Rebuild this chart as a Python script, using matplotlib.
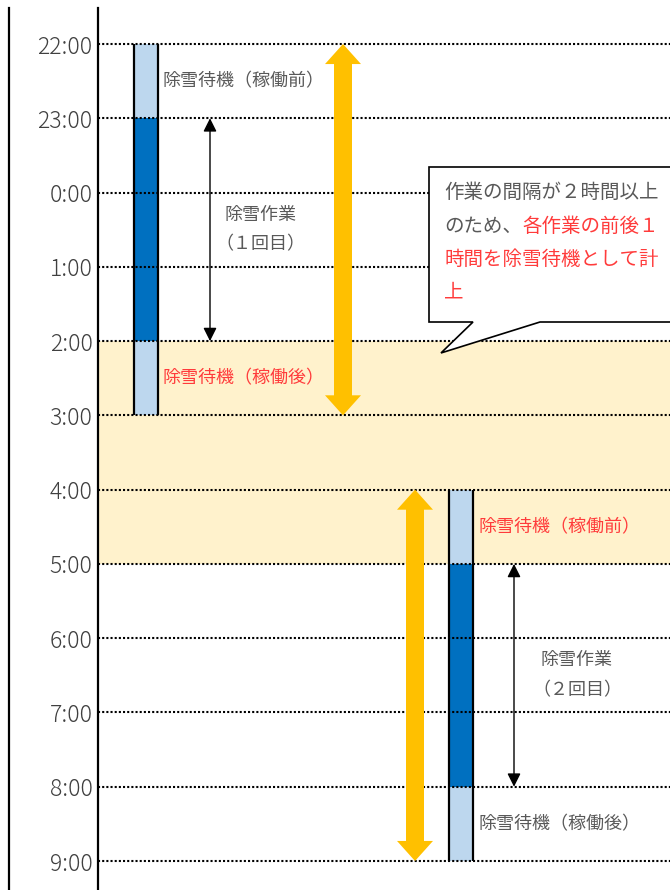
import matplotlib.pyplot as plt
from matplotlib.patches import Polygon

plt.rcParams['font.family'] = ['Noto Sans CJK JP', 'DejaVu Sans']

# 時刻ラベル (22:00 から 9:00 まで)
hours = ['22:00', '23:00', '0:00', '1:00', '2:00', '3:00',
         '4:00', '5:00', '6:00', '7:00', '8:00', '9:00']

# 各作業 (値は hours の位置)
sessions = ['１回目', '２回目']
standby_start = [0, 6]   # 除雪待機（稼働前）開始
work_start = [1, 7]      # 除雪作業 開始
work_end = [4, 10]       # 除雪作業 終了
standby_end = [5, 11]    # 除雪待機（稼働後）終了
before_red = [False, True]
after_red = [True, False]

# 待機が重なる時間帯 (2:00-5:00)
shade_start, shade_end = 4, 7

GRAY = '#595959'
RED = '#FF3B3B'
LIGHT = '#BDD7EE'
DARK = '#0070C0'
YELLOW = '#FFC000'

bar_x = [36, 351]
bar_w = 24
yarrow_x = [245, 317]
thin_x = [112, 416]
work_label_x = [162, 479]

fig = plt.figure(figsize=(6.7, 8.9), dpi=100)
ax = fig.add_axes([98 / 670, 0, 1 - 98 / 670, 1])
step = (861 - 44) / 11
ax.set_xlim(0, 572)
ax.set_ylim(11 + 29 / step, -44 / step)

# 背景の網掛け
ax.axhspan(shade_start, shade_end, color='#FFF2CC', zorder=0, lw=0)

for i in range(len(sessions)):
    x0 = bar_x[i]
    # 棒
    ax.bar(x0, work_start[i] - standby_start[i], bottom=standby_start[i], width=bar_w,
           align='edge', color=LIGHT, zorder=1)
    ax.bar(x0, work_end[i] - work_start[i], bottom=work_start[i], width=bar_w,
           align='edge', color=DARK, zorder=1)
    ax.bar(x0, standby_end[i] - work_end[i], bottom=work_end[i], width=bar_w,
           align='edge', color=LIGHT, zorder=1)
    ax.vlines([x0, x0 + bar_w], standby_start[i], standby_end[i], color='black', lw=1.6, zorder=2)

    # 黄色の両矢印 (中央で重なる2本の矢印)
    a, b = standby_start[i], standby_end[i]
    m1 = a + (b - a) * 0.6
    m2 = a + (b - a) * 0.4
    ax.arrow(yarrow_x[i], m1, 0, a - m1, width=18, head_width=36, head_length=0.27,
             length_includes_head=True, color=YELLOW, lw=0, zorder=4)
    ax.arrow(yarrow_x[i], m2, 0, b - m2, width=18, head_width=36, head_length=0.27,
             length_includes_head=True, color=YELLOW, lw=0, zorder=4)

    # 作業時間の細い両矢印
    ax.annotate('', xy=(thin_x[i], work_end[i]), xytext=(thin_x[i], work_start[i]),
                arrowprops=dict(arrowstyle='<|-|>', color='black', lw=1, mutation_scale=20,
                                shrinkA=0, shrinkB=0), zorder=5)

    # ラベル
    ax.text(x0 + bar_w + 5, (standby_start[i] + work_start[i]) / 2, '除雪待機（稼働前）',
            color=RED if before_red[i] else GRAY, fontsize=13, va='center', ha='left', zorder=6)
    ax.text(x0 + bar_w + 5, (work_end[i] + standby_end[i]) / 2, '除雪待機（稼働後）',
            color=RED if after_red[i] else GRAY, fontsize=13, va='center', ha='left', zorder=6)
    wmid = (work_start[i] + work_end[i]) / 2
    ax.text(work_label_x[i], wmid - 0.2, '除雪作業', color=GRAY, fontsize=13,
            ha='center', va='center', zorder=6)
    ax.text(work_label_x[i], wmid + 0.2, '（' + sessions[i][0] + '回目）', color=GRAY, fontsize=13,
            ha='center', va='center', zorder=6)

# 時刻の点線
ax.hlines(range(len(hours)), 0, 572, color='black', lw=1.5, linestyles=(0, (1, 1)), zorder=3)

# 吹き出し
callout = Polygon([(331, 1.656), (580, 1.656), (580, 3.743), (442, 3.743), (343, 4.16),
                   (375, 3.743), (331, 3.743)], closed=True, facecolor='white',
                  edgecolor='black', lw=1.2, zorder=5)
ax.add_patch(callout)
tx = 346
ax.text(tx, 2.0, '作業の間隔が２時間以上', color=GRAY, fontsize=14, va='center', zorder=6)
t2 = ax.text(tx, 2.46, 'のため、', color=GRAY, fontsize=14, va='center', zorder=6)
ax.annotate('各作業の前後１', xy=(1, 0.5), xycoords=t2, va='center', ha='left',
            color=RED, fontsize=14, zorder=6)
ax.text(tx, 2.9, '時間を除雪待機として計', color=RED, fontsize=14, va='center', zorder=6)
ax.text(tx, 3.34, '上', color=RED, fontsize=14, va='center', zorder=6)

# 軸
ax.set_yticks(range(len(hours)), hours)
ax.tick_params(axis='y', length=0, pad=4, labelsize=16.5, labelcolor='#404040')
for lbl in ax.get_yticklabels():
    lbl.set_fontweight('light')
ax.set_xticks([])
for s in ['top', 'right', 'bottom']:
    ax.spines[s].set_visible(False)
ax.spines['left'].set_linewidth(1.6)
ax.spines['left'].set_bounds(11 + 29 / step, -36 / step)
fig.add_artist(plt.Line2D([9 / 670, 9 / 670], [0, 1 - 8 / 890], color='black', lw=1.6))

fig.savefig('out.png', dpi=100)
